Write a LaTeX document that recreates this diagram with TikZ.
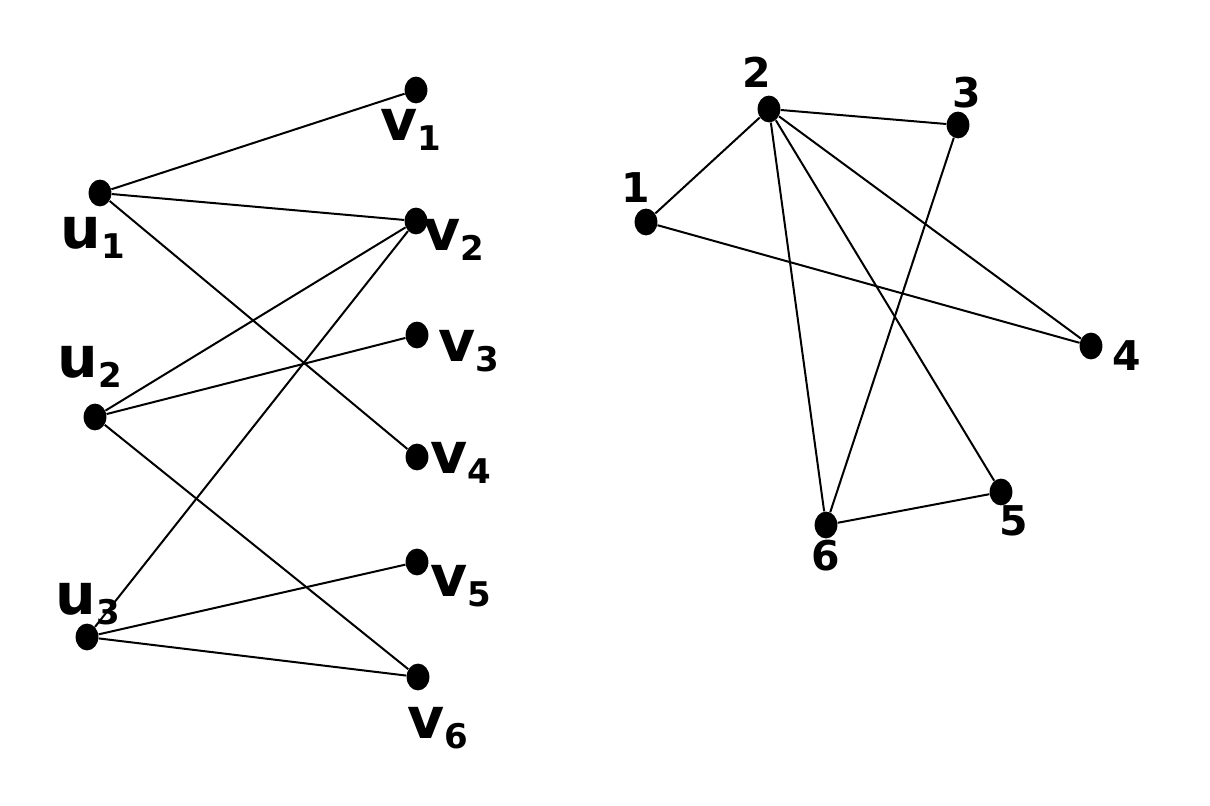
\documentclass[tikz,border=0pt]{standalone}
\usepackage{fontspec}
\setmainfont{DejaVu Sans}
\usetikzlibrary{shapes.geometric}

\newcommand\vsub[2]{#1\raisebox{-5pt}{\fontsize{17}{17}\selectfont #2}}

\begin{document}
\begin{tikzpicture}[
  x=0.5pt, y=-0.5pt,
  vert/.style={ellipse, fill=black, minimum width=11.4pt, minimum height=13.4pt, inner sep=0pt},
  edge/.style={line width=1pt},
  lab/.style={inner sep=0pt, font=\bfseries\fontsize{28.5}{30}\selectfont},
  num/.style={inner sep=0pt, font=\bfseries\fontsize{20.5}{22}\selectfont}
]
\useasboundingbox (0,0) rectangle (1210,806);

% bipartite graph
\node[vert] (u1) at (100,193) {};
\node[vert] (u2) at (95,417) {};
\node[vert] (u3) at (87,637) {};
\node[vert] (v1) at (416,90) {};
\node[vert] (v2) at (416,221) {};
\node[vert] (v3) at (417,335) {};
\node[vert] (v4) at (417,457) {};
\node[vert] (v5) at (417,562) {};
\node[vert] (v6) at (418,677) {};

\node[lab] (lu1) at (93,238) {\vsub{u}{1}};
\node[lab] (lu2) at (90,367) {\vsub{u}{2}};
\node[lab] (lu3) at (88,604) {\vsub{u}{3}};
\node[lab] (lv1) at (411,130) {\vsub{v}{1}};
\node[lab] (lv2) at (454,240) {\vsub{v}{2}};
\node[lab] (lv3) at (469,351) {\vsub{v}{3}};
\node[lab] (lv4) at (461,463) {\vsub{v}{4}};
\node[lab] (lv5) at (461,586) {\vsub{v}{5}};
\node[lab] (lv6) at (438,728) {\vsub{v}{6}};

\draw[edge] (u1) -- (v1);
\draw[edge] (u1) -- (v2);
\draw[edge] (u1) -- (v4);
\draw[edge] (u2) -- (v2);
\draw[edge] (u2) -- (v3);
\draw[edge] (u2) -- (v6);
\draw[edge] (u3) -- (v2);
\draw[edge] (u3) -- (v5);
\draw[edge] (u3) -- (v6);

% second graph
\node[vert] (n1) at (646,222) {};
\node[vert] (n2) at (769,109) {};
\node[vert] (n3) at (958,125) {};
\node[vert] (n4) at (1091,346) {};
\node[vert] (n5) at (1001,492) {};
\node[vert] (n6) at (826,525) {};

\node[num] (l1) at (636,188) {1};
\node[num] (l2) at (757,72) {2};
\node[num] (l3) at (967,93) {3};
\node[num] (l4) at (1127,356) {4};
\node[num] (l5) at (1014,521) {5};
\node[num] (l6) at (826,556) {6};

\draw[edge] (n1) -- (n2);
\draw[edge] (n1) -- (n4);
\draw[edge] (n2) -- (n3);
\draw[edge] (n2) -- (n4);
\draw[edge] (n2) -- (n5);
\draw[edge] (n2) -- (n6);
\draw[edge] (n3) -- (n6);
\draw[edge] (n6) -- (n5);
\end{tikzpicture}
\end{document}
